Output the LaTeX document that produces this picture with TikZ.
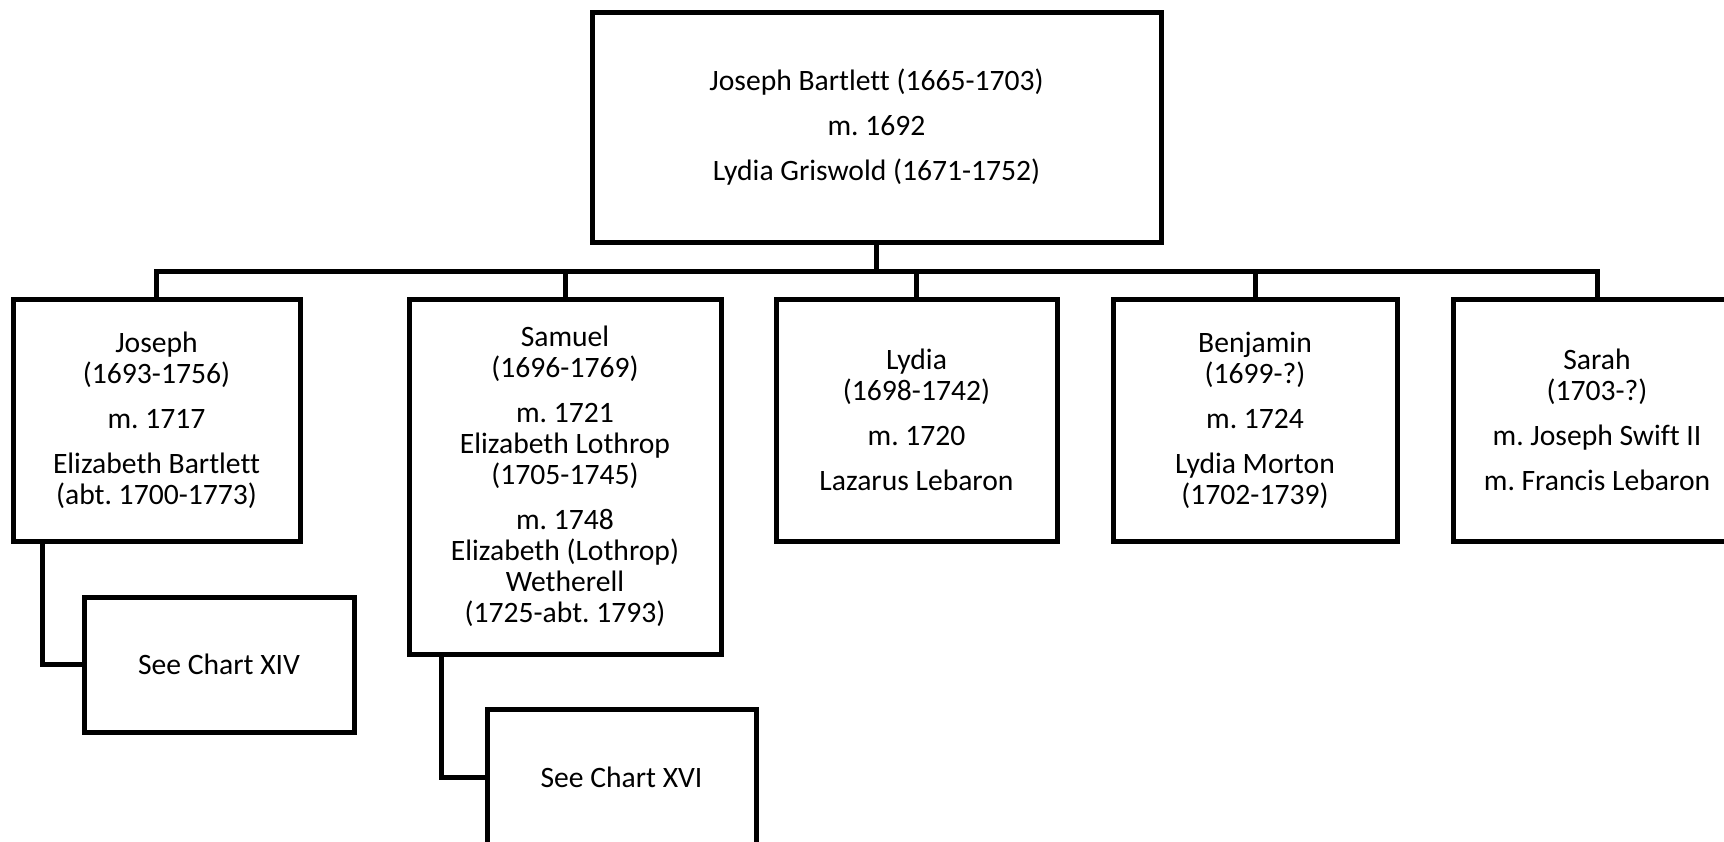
\documentclass[tikz,border=0pt]{standalone}
\usepackage{fontspec}
\setmainfont{Carlito}[Ligatures=NoCommon]
\frenchspacing
\usetikzlibrary{positioning}
\tikzset{%
	% Specifications for style of nodes:
	base/.style = {rectangle, draw=black, line width=2.5pt,
		inner sep=0pt, outer sep=0pt,
		align=center, font=\fontsize{14.8pt}{15.5pt}\selectfont},
	parentBox/.style = {base, minimum width=284.5pt, minimum height=115pt},
	childBox/.style = {base, minimum height=121pt},
	chartBox/.style = {base, minimum width=135pt, minimum height=68pt},
	link/.style = {draw=black, line width=2.5pt}
}

\begin{document}
\begin{tikzpicture}
	\useasboundingbox (0,0) rectangle (862pt,-420.5pt);
	\node [parentBox] (parents) at (438.25pt,-63.5pt) {Joseph Bartlett (1665-1703)\\[7pt] m. 1692\\[7pt] Lydia Griswold (1671-1752)};
	%% Children
	\node [childBox, minimum width=143.5pt, anchor=north west] (joseph) at (6.5pt,-149.5pt) {Joseph\\(1693-1756)\\[7pt] m. 1717\\[7pt] Elizabeth Bartlett\\(abt. 1700-1773)};
	\node [childBox, minimum width=156pt, minimum height=177.5pt, right=54.5pt of joseph.north east, anchor=north west] (samuel) {Samuel\\(1696-1769)\\[7pt] m. 1721\\Elizabeth Lothrop\\(1705-1745)\\[7pt] m. 1748\\Elizabeth (Lothrop)\\Wetherell\\(1725-abt. 1793)};
	\node [childBox, minimum width=140.5pt, right=27.5pt of samuel.north east, anchor=north west] (lydia) {Lydia\\(1698-1742)\\[7pt] m. 1720\\[7pt] Lazarus Lebaron};
	\node [childBox, minimum width=142pt, right=28pt of lydia.north east, anchor=north west] (benjamin) {Benjamin\\(1699-?)\\[7pt] m. 1724\\[7pt] Lydia Morton\\(1702-1739)};
	\node [childBox, minimum width=144pt, right=28pt of benjamin.north east, anchor=north west] (sarah) {Sarah\\(1703-?)\\[7pt] m. Joseph Swift II\\[7pt] m. Francis Lebaron};
	%% Chart references
	\node [chartBox, minimum height=67.5pt, below right=28pt and 35.5pt of joseph.south west] (chartXIV) {See Chart XIV};
	\node [chartBox, minimum width=134.5pt, below right=27.5pt and 39pt of samuel.south west] (chartXVI) {See Chart XVI};
	%% Lines
	\draw [link] (parents.south) -- ++(0,-14.5pt);
	\draw [link] (joseph.north) -- ++(0,14pt) -| (sarah.north);
	\foreach \kid in {samuel, lydia, benjamin}
		\draw [link] (\kid.north) -- ++(0,14pt);
	\draw [link] ([xshift=14.5pt]joseph.south west) |- (chartXIV.west);
	\draw [link] ([xshift=16pt]samuel.south west) |- (chartXVI.west);
\end{tikzpicture}
\end{document}
